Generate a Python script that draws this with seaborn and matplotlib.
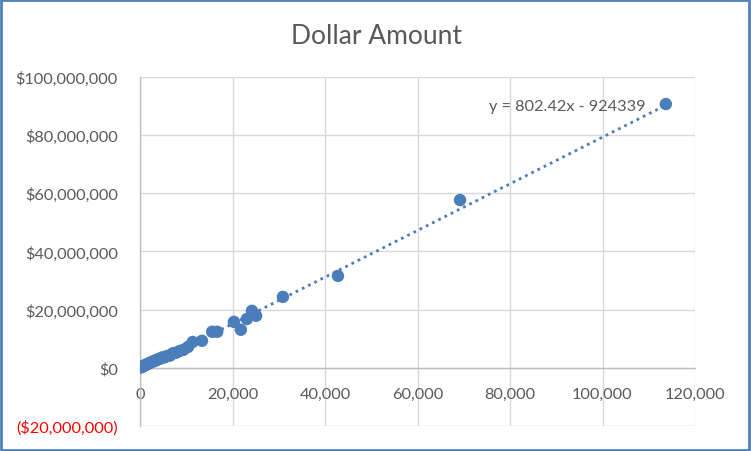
import numpy as np
import pandas as pd
import matplotlib
matplotlib.use('Agg')
import matplotlib.pyplot as plt
import matplotlib.ticker as mticker
from matplotlib.patches import Rectangle
import seaborn as sns

# --- data ---
count = [150, 400, 700, 1000, 1300, 1600, 1900, 2200, 2600, 3000, 3400, 3800,
         4300, 4800, 5300, 5900, 6500, 7100, 7800, 8600, 9400, 10400, 11400,
         13400, 15600, 16700, 20300, 21800, 23100, 24200, 25100, 30900,
         42800, 69200, 113700]
amount = [0.1e6, 0.4e6, 0.5e6, 0.9e6, 1.0e6, 1.3e6, 1.5e6, 1.8e6, 2.0e6, 2.4e6,
          2.5e6, 2.9e6, 3.1e6, 3.6e6, 3.6e6, 4.1e6, 4.2e6, 5.0e6, 5.2e6, 5.8e6,
          6.2e6, 7.2e6, 8.9e6, 9.3e6, 12.4e6, 12.4e6, 15.8e6, 13.1e6, 16.8e6,
          19.6e6, 17.9e6, 24.4e6, 31.6e6, 57.7e6, 90.7e6]
slope = 802.42
intercept = -924339
x_ticks = [0, 20000, 40000, 60000, 80000, 100000, 120000]
y_ticks = [-20e6, 0, 20e6, 40e6, 60e6, 80e6, 100e6]

df = pd.DataFrame({'count': count, 'amount': amount})

blue = '#4a7ebb'
grey = '#595959'

sns.set_style('white')
plt.rcParams['font.family'] = ['Lato', 'DejaVu Sans']

fig = plt.figure(figsize=(7.51, 4.52), dpi=100)
ax = fig.add_axes([140 / 751, 1 - 427 / 452, 555 / 751, 349 / 452])

sns.scatterplot(data=df, x='count', y='amount', color=blue, s=80,
                edgecolor='none', ax=ax, zorder=3)

# linear trendline
xs = np.array([min(count), max(count)])
ax.plot(xs, slope * xs + intercept, color=blue, linestyle=(0, (1, 1.5)),
        linewidth=2, zorder=2)
ax.text(109300, 90.2e6, 'y = 802.42x - 924339', ha='right', va='center',
        fontsize=11.7, color=grey)

ax.set_xlim(0, 120000)
ax.set_ylim(-20e6, 100e6)
ax.set_xticks(x_ticks)
ax.set_yticks(y_ticks)

def money(v, pos):
    if v < 0:
        return '(${:,.0f})'.format(-v)
    return '${:,.0f}'.format(v)

ax.xaxis.set_major_formatter(mticker.FuncFormatter(lambda v, p: '{:,.0f}'.format(v)))
ax.yaxis.set_major_formatter(mticker.FuncFormatter(money))
ax.tick_params(axis='both', length=0, labelsize=11.7, colors=grey)
ax.tick_params(axis='y', pad=16)
ax.tick_params(axis='x', pad=14)
for lbl, val in zip(ax.get_yticklabels(), y_ticks):
    if val < 0:
        lbl.set_color('red')

ax.grid(True, color='#d9d9d9', linewidth=1)
ax.set_axisbelow(True)
ax.spines['bottom'].set_position(('data', 0))
for side in ['bottom', 'left']:
    ax.spines[side].set_color('#bfbfbf')
    ax.spines[side].set_linewidth(1)
for side in ['top', 'right']:
    ax.spines[side].set_visible(False)
ax.set_xlabel('')
ax.set_ylabel('')

fig.text(376 / 751, 1 - 36 / 452, 'Dollar Amount', ha='center', va='center',
         fontsize=19, color=grey)

fig.patches.append(Rectangle((0.001, 0.002), 0.997, 0.996, transform=fig.transFigure,
                             fill=False, edgecolor='#4f81bd', linewidth=2))

fig.savefig('out.png', dpi=100)
